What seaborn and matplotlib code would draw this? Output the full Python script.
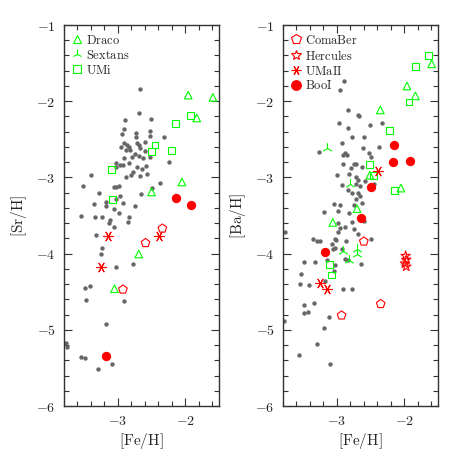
import matplotlib
matplotlib.use("Agg")
import matplotlib.pyplot as plt
from matplotlib.lines import Line2D
from matplotlib.ticker import MultipleLocator, FuncFormatter
import seaborn as sns

# ---- left panel: [Sr/H] vs [Fe/H] ----
halo_fe_sr = [-2.668, -2.683, -2.895, -2.505, -2.905, -2.944, -2.727, -2.524, -2.52, -2.32,
              -2.736, -2.717, -2.60, -2.905, -2.96, -2.87, -2.84, -2.69, -2.67, -2.82,
              -2.88, -2.60, -2.75, -2.68, -2.91, -2.79, -2.52, -2.62, -2.84, -3.02,
              -2.93, -2.97, -2.58, -2.71, -3.02, -2.24, -2.64, -2.77, -2.81, -2.67,
              -2.57, -2.88, -3.40, -2.37, -3.52, -3.05, -3.02, -2.99, -2.49, -3.28,
              -2.66, -2.97, -3.03, -3.18, -2.92, -3.355, -3.17, -2.74, -3.06, -3.54,
              -3.335, -3.24, -2.98, -3.11, -3.13, -2.84, -2.85, -3.05, -3.325, -3.24,
              -3.25, -3.02, -2.77, -3.48, -3.42, -3.47, -2.905, -3.18, -3.775, -3.76,
              -3.55, -3.48, -3.09, -3.295]
halo_sr = [-1.84, -2.15, -2.247, -2.23, -2.36, -2.434, -2.42, -2.39, -2.45, -2.47,
           -2.47, -2.55, -2.535, -2.55, -2.60, -2.575, -2.60, -2.575, -2.61, -2.64,
           -2.64, -2.65, -2.69, -2.715, -2.74, -2.73, -2.73, -2.74, -2.815, -2.81,
           -2.84, -2.84, -2.85, -2.86, -2.86, -2.80, -2.885, -2.93, -2.97, -2.98,
           -2.96, -3.00, -2.97, -3.07, -3.11, -3.12, -3.12, -3.11, -3.14, -3.21,
           -3.22, -3.25, -3.28, -3.32, -3.34, -3.35, -3.38, -3.37, -3.41, -3.50,
           -3.52, -3.52, -3.47, -3.56, -3.60, -3.52, -3.59, -3.65, -3.75, -3.92,
           -4.00, -4.18, -4.14, -4.45, -4.43, -4.61, -4.62, -4.92, -5.17, -5.22,
           -5.36, -5.375, -5.445, -5.52]

draco_fe_sr = [-1.956, -1.59, -1.83, -2.05, -2.50, -2.69, -3.05]
draco_sr = [-1.92, -1.95, -2.22, -3.06, -3.19, -4.005, -4.46]
umi_fe_sr = [-1.92, -2.14, -2.45, -2.50, -2.21, -3.10, -3.08]
umi_sr = [-2.19, -2.29, -2.575, -2.66, -2.65, -2.90, -3.29]
boo_fe_sr = [-2.14, -1.91, -3.17]
boo_sr = [-3.27, -3.36, -5.34]
coma_fe_sr = [-2.34, -2.59, -2.925]
coma_sr = [-3.67, -3.86, -4.47]
umaii_fe_sr = [-3.14, -2.39, -3.25]
umaii_sr = [-3.77, -3.77, -4.17]

# ---- right panel: [Ba/H] vs [Fe/H] ----
halo_fe_ba = [-2.90, -2.95, -2.84, -2.69, -2.67, -2.97, -2.835, -2.51, -2.33, -2.78,
              -2.60, -2.93, -2.61, -2.37, -3.26, -2.885, -2.91, -2.85, -2.52, -2.50,
              -2.91, -2.75, -2.72, -2.785, -2.62, -2.825, -3.00, -2.71, -2.69, -2.58,
              -2.92, -2.71, -2.66, -2.45, -2.84, -2.68, -2.77, -2.66, -2.72, -2.62,
              -3.04, -2.95, -2.74, -3.185, -2.99, -2.82, -3.775, -2.98, -2.78, -2.96,
              -2.99, -2.885, -2.75, -2.69, -2.59, -3.36, -3.29, -3.245, -3.03, -3.01,
              -2.86, -3.07, -3.05, -3.03, -2.925, -2.50, -3.48, -3.33, -3.14, -2.885,
              -2.84, -3.02, -3.04, -2.64, -3.53, -3.55, -3.41, -3.17, -2.91, -2.78,
              -3.49, -3.34, -3.49, -3.43, -3.12, -3.785, -3.19, -3.30, -3.56, -3.10]
halo_ba = [-1.73, -1.85, -2.115, -2.18, -2.19, -2.29, -2.35, -2.31, -2.29, -2.47,
           -2.47, -2.55, -2.62, -2.60, -2.66, -2.68, -2.70, -2.71, -2.68, -2.73,
           -2.82, -2.83, -2.82, -2.88, -2.86, -2.95, -2.97, -2.99, -3.03, -3.05,
           -3.10, -3.09, -3.11, -3.08, -3.17, -3.20, -3.21, -3.25, -3.28, -3.33,
           -3.35, -3.36, -3.36, -3.46, -3.44, -3.47, -3.71, -3.60, -3.59, -3.67,
           -3.72, -3.65, -3.68, -3.74, -3.57, -3.81, -3.84, -3.83, -3.81, -3.82,
           -3.83, -3.88, -3.94, -3.92, -3.94, -3.81, -4.11, -4.11, -4.08, -4.07,
           -4.08, -4.15, -4.23, -4.14, -4.27, -4.40, -4.41, -4.36, -4.47, -4.47,
           -4.68, -4.65, -4.78, -4.76, -4.83, -4.88, -4.97, -5.19, -5.33, -5.45]

draco_fe_ba = [-1.594, -1.96, -1.835, -2.355, -2.51, -2.05, -2.70, -3.06]
draco_ba = [-1.51, -1.80, -1.93, -2.115, -2.97, -3.14, -3.41, -3.59]
umi_fe_ba = [-1.64, -1.835, -1.93, -2.22, -2.51, -2.455, -2.15, -3.11, -3.08]
umi_ba = [-1.40, -1.54, -2.01, -2.38, -2.83, -2.98, -3.17, -4.14, -4.28]
sex_fe_ba = [-3.15, -2.81, -2.91, -2.70, -2.70, -2.82]
sex_ba = [-2.61, -3.08, -3.97, -3.94, -4.01, -4.08]
boo_fe_ba = [-2.15, -2.16, -1.92, -2.49, -2.64, -3.18]
boo_ba = [-2.58, -2.80, -2.79, -3.12, -3.53, -3.98]
coma_fe_ba = [-2.60, -2.35, -2.93]
coma_ba = [-3.84, -4.66, -4.81]
herc_fe_ba = [-1.98, -1.97, -1.99, -1.97]
herc_ba = [-4.03, -4.08, -4.13, -4.17]
umaii_fe_ba = [-2.395, -3.255, -3.15]
umaii_ba = [-2.91, -4.38, -4.46]

GREEN = "#00ff00"
RED = "#ff0000"
GREY = "#676767"
ASTER = (6, 2, 90)

sns.set_theme(style="ticks")
plt.rcParams["mathtext.fontset"] = "cm"
plt.rcParams["font.family"] = ["DejaVu Serif"]


def open_pts(ax, x, y, marker, color, s):
    sns.scatterplot(x=x, y=y, ax=ax, marker=marker, s=s, color=color,
                    facecolor="none", edgecolor=color, linewidth=0.8, zorder=3)


def line_pts(ax, x, y, marker, color, s):
    sns.scatterplot(x=x, y=y, ax=ax, marker=marker, s=s, color=color,
                    linewidth=0.8, zorder=3)


def style_axes(ax, ylabel):
    ax.set_xlim(-3.8, -1.5)
    ax.set_ylim(-6, -1)
    ax.xaxis.set_major_locator(MultipleLocator(1))
    ax.xaxis.set_minor_locator(MultipleLocator(0.2))
    ax.yaxis.set_major_locator(MultipleLocator(1))
    ax.yaxis.set_minor_locator(MultipleLocator(0.2))
    fmt = FuncFormatter(lambda v, p: r"$%d$" % round(v))
    ax.xaxis.set_major_formatter(fmt)
    ax.yaxis.set_major_formatter(fmt)
    ax.tick_params(which="both", direction="in", top=True, right=True,
                   labelsize=10, color="#333333", width=0.8)
    ax.tick_params(which="major", length=6, pad=6)
    ax.tick_params(which="minor", length=3.5)
    for sp in ax.spines.values():
        sp.set_color("#333333")
        sp.set_linewidth(1.0)
    ax.set_xlabel(r"$\mathrm{[Fe/H]}$", fontsize=11, labelpad=2)
    ax.set_ylabel(r"$\mathrm{[%s/H]}$" % ylabel, fontsize=11, labelpad=5)


def leg_handle(marker, color, filled=False, ms=6):
    return Line2D([], [], linestyle="none", marker=marker, markersize=ms,
                  markeredgecolor=color, markeredgewidth=0.8,
                  markerfacecolor=color if filled else "none", color=color)


fig = plt.figure(figsize=(4.63, 4.63), dpi=100)
ax1 = fig.add_axes([0.138, 0.123, 0.335, 0.823])
ax2 = fig.add_axes([0.611, 0.123, 0.335, 0.823])

# left
sns.scatterplot(x=halo_fe_sr, y=halo_sr, ax=ax1, color=GREY, s=10, linewidth=0, zorder=2)
open_pts(ax1, draco_fe_sr, draco_sr, "^", GREEN, 30)
open_pts(ax1, umi_fe_sr, umi_sr, "s", GREEN, 24)
open_pts(ax1, coma_fe_sr, coma_sr, "p", RED, 42)
line_pts(ax1, umaii_fe_sr, umaii_sr, ASTER, RED, 50)
sns.scatterplot(x=boo_fe_sr, y=boo_sr, ax=ax1, color=RED, s=45, linewidth=0, zorder=4)

# right
sns.scatterplot(x=halo_fe_ba, y=halo_ba, ax=ax2, color=GREY, s=10, linewidth=0, zorder=2)
open_pts(ax2, draco_fe_ba, draco_ba, "^", GREEN, 30)
open_pts(ax2, umi_fe_ba, umi_ba, "s", GREEN, 24)
line_pts(ax2, sex_fe_ba, sex_ba, "2", GREEN, 60)
open_pts(ax2, coma_fe_ba, coma_ba, "p", RED, 42)
open_pts(ax2, herc_fe_ba, herc_ba, "*", RED, 50)
line_pts(ax2, umaii_fe_ba, umaii_ba, ASTER, RED, 50)
sns.scatterplot(x=boo_fe_ba, y=boo_ba, ax=ax2, color=RED, s=45, linewidth=0, zorder=4)

style_axes(ax1, "Sr")
style_axes(ax2, "Ba")

leg_kw = dict(loc="upper left", frameon=False, fontsize=9, handlelength=0.7,
              handletextpad=0.35, labelspacing=0.15, borderaxespad=0.4,
              borderpad=0.3)
ax1.legend(handles=[leg_handle("^", GREEN), leg_handle("2", GREEN, ms=7),
                    leg_handle("s", GREEN, ms=5.5)],
           labels=[r"$\mathrm{Draco}$", r"$\mathrm{Sextans}$", r"$\mathrm{UMi}$"],
           **leg_kw)
ax2.legend(handles=[leg_handle("p", RED, ms=7), leg_handle("*", RED, ms=7),
                    leg_handle(ASTER, RED, ms=7), leg_handle("o", RED, True, ms=7)],
           labels=[r"$\mathrm{ComaBer}$", r"$\mathrm{Hercules}$", r"$\mathrm{UMaII}$",
                   r"$\mathrm{BooI}$"],
           **leg_kw)

fig.savefig("out.png", dpi=100)
